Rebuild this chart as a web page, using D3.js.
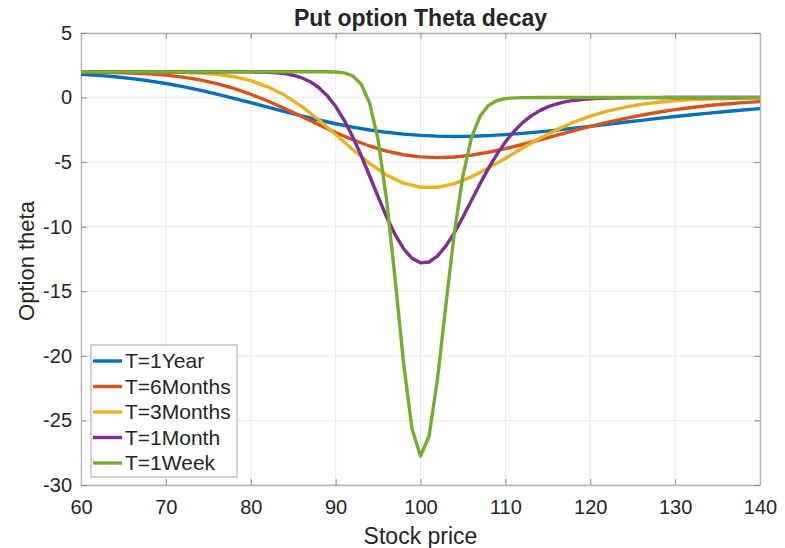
<!DOCTYPE html>
<html>
<head>
<meta charset="utf-8">
<script src="https://cdn.jsdelivr.net/npm/d3@7/dist/d3.min.js"></script>
<style>
  html, body { margin: 0; padding: 0; background: #ffffff; }
  svg { display: block; }
  text { font-family: "Liberation Sans", Arial, Helvetica, sans-serif; fill: #262626; }
</style>
</head>
<body>
<svg id="chart" width="785" height="548"></svg>
<script>
// Stock prices sampled every 2 (smooth, long-dated curves)
const priceCoarse = [60, 62, 64, 66, 68, 70, 72, 74, 76, 78, 80, 82, 84, 86, 88, 90, 92, 94, 96, 98,
  100, 102, 104, 106, 108, 110, 112, 114, 116, 118, 120, 122, 124, 126, 128, 130, 132, 134, 136, 138, 140];

// Stock prices sampled every 1 (short-dated curves)
const priceFine = [60, 61, 62, 63, 64, 65, 66, 67, 68, 69, 70, 71, 72, 73, 74, 75, 76, 77, 78, 79,
  80, 81, 82, 83, 84, 85, 86, 87, 88, 89, 90, 91, 92, 93, 94, 95, 96, 97, 98, 99,
  100, 101, 102, 103, 104, 105, 106, 107, 108, 109, 110, 111, 112, 113, 114, 115, 116, 117, 118, 119,
  120, 121, 122, 123, 124, 125, 126, 127, 128, 129, 130, 131, 132, 133, 134, 135, 136, 137, 138, 139, 140];

const thetaOneYear = [1.799, 1.719, 1.610, 1.471, 1.298, 1.089, 0.846, 0.571, 0.268, -0.058,
  -0.398, -0.743, -1.088, -1.421, -1.738, -2.027, -2.285, -2.509, -2.690, -2.832,
  -2.930, -2.988, -3.009, -2.993, -2.944, -2.868, -2.770, -2.652, -2.521, -2.378,
  -2.227, -2.071, -1.915, -1.765, -1.615, -1.469, -1.331, -1.200, -1.080, -0.966, -0.860];

const thetaSixMonths = [1.972, 1.961, 1.940, 1.902, 1.838, 1.737, 1.583, 1.368, 1.078, 0.710,
  0.257, -0.266, -0.846, -1.466, -2.095, -2.702, -3.264, -3.750, -4.142, -4.425,
  -4.594, -4.650, -4.600, -4.458, -4.234, -3.957, -3.635, -3.286, -2.929, -2.579,
  -2.238, -1.919, -1.628, -1.367, -1.136, -0.935, -0.765, -0.618, -0.496, -0.395, -0.312];

const thetaThreeMonths = [1.990, 1.990, 1.990, 1.989, 1.985, 1.976, 1.953, 1.902, 1.800, 1.615,
  1.306, 0.836, 0.174, -0.687, -1.718, -2.856, -4.018, -5.097, -5.994, -6.623,
  -6.945, -6.946, -6.661, -6.140, -5.462, -4.703, -3.922, -3.176, -2.505, -1.920,
  -1.437, -1.053, -0.755, -0.528, -0.362, -0.243, -0.163, -0.107, -0.069, -0.043, -0.027];

const thetaOneMonth = [1.997, 1.997, 1.997, 1.997, 1.997, 1.997, 1.997, 1.997, 1.997, 1.997,
  1.997, 1.997, 1.997, 1.997, 1.997, 1.997, 1.997, 1.996, 1.995, 1.993,
  1.989, 1.979, 1.959, 1.920, 1.850, 1.729, 1.532, 1.230, 0.779, 0.151,
  -0.677, -1.740, -3.012, -4.471, -6.053, -7.674, -9.230, -10.598, -11.703, -12.450,
  -12.796, -12.731, -12.276, -11.488, -10.459, -9.253, -7.976, -6.690, -5.486, -4.396,
  -3.429, -2.625, -1.960, -1.434, -1.027, -0.721, -0.497, -0.335, -0.222, -0.145,
  -0.093, -0.058, -0.036, -0.022, -0.013, -0.008, -0.005, -0.003, -0.001, 0,
  0, 0, 0, 0, 0, 0, 0, 0, 0, 0, 0];

const thetaOneWeek = [1.999, 1.999, 1.999, 1.999, 1.999, 1.999, 1.999, 1.999, 1.999, 1.999,
  1.999, 1.999, 1.999, 1.999, 1.999, 1.999, 1.999, 1.999, 1.999, 1.999,
  1.999, 1.999, 1.999, 1.999, 1.999, 1.999, 1.999, 1.999, 1.998, 1.995,
  1.978, 1.910, 1.684, 1.056, -0.409, -3.263, -7.889, -14.004, -20.522, -25.646,
  -27.757, -26.242, -21.811, -16.010, -10.421, -6.039, -3.129, -1.453, -0.607, -0.228,
  -0.078, -0.024, -0.007, -0.002, 0, 0, 0, 0, 0, 0,
  0, 0, 0, 0, 0, 0, 0, 0, 0, 0,
  0, 0, 0, 0, 0, 0, 0, 0, 0, 0, 0];

const seriesNames = ["T=1Year", "T=6Months", "T=3Months", "T=1Month", "T=1Week"];
const seriesColors = ["#0072BD", "#D95319", "#EDB120", "#7E2F8E", "#77AC30"];
const xTicks = [60, 70, 80, 90, 100, 110, 120, 130, 140];
const yTicks = [-30, -25, -20, -15, -10, -5, 0, 5];

const series = [
  { name: seriesNames[0], color: seriesColors[0], xs: priceCoarse, ys: thetaOneYear },
  { name: seriesNames[1], color: seriesColors[1], xs: priceCoarse, ys: thetaSixMonths },
  { name: seriesNames[2], color: seriesColors[2], xs: priceCoarse, ys: thetaThreeMonths },
  { name: seriesNames[3], color: seriesColors[3], xs: priceFine, ys: thetaOneMonth },
  { name: seriesNames[4], color: seriesColors[4], xs: priceFine, ys: thetaOneWeek }
];

const W = 785, H = 548;
const plot = { left: 81, right: 760, top: 33, bottom: 485 };

const svg = d3.select("#chart");
svg.append("rect").attr("width", W).attr("height", H).attr("fill", "#ffffff");

const x = d3.scaleLinear().domain([60, 140]).range([plot.left, plot.right]);
const y = d3.scaleLinear().domain([-30, 5]).range([plot.bottom, plot.top]);

// plain hyphen-minus labels
const tickLabel = d => String(d);

// grid
const grid = svg.append("g").attr("class", "grid");
grid.selectAll("line.gx").data(xTicks).join("line")
  .attr("x1", d => x(d)).attr("x2", d => x(d))
  .attr("y1", plot.top).attr("y2", plot.bottom)
  .attr("stroke", "#ebebeb").attr("stroke-width", 1);
grid.selectAll("line.gy").data(yTicks).join("line")
  .attr("x1", plot.left).attr("x2", plot.right)
  .attr("y1", d => y(d)).attr("y2", d => y(d))
  .attr("stroke", "#ebebeb").attr("stroke-width", 1);

// axes (ticks point inward, box on all sides)
const axisColor = "#b3b3b3";
const tickColor = "#8c8c8c";
function styleAxis(g) {
  g.select(".domain").attr("stroke", axisColor).attr("stroke-width", 1.3);
  g.selectAll(".tick line").attr("stroke", tickColor).attr("stroke-width", 1);
  g.selectAll(".tick text").attr("fill", "#262626").style("font-size", "20px");
}

svg.append("g").attr("transform", `translate(0,${plot.bottom})`)
  .call(d3.axisBottom(x).tickValues(xTicks).tickSize(-6).tickSizeOuter(0).tickPadding(15).tickFormat(tickLabel))
  .call(styleAxis);
svg.append("g").attr("transform", `translate(0,${plot.top})`)
  .call(d3.axisTop(x).tickValues(xTicks).tickSize(-6).tickSizeOuter(0).tickFormat(""))
  .call(styleAxis);
svg.append("g").attr("transform", `translate(${plot.left},0)`)
  .call(d3.axisLeft(y).tickValues(yTicks).tickSize(-6).tickSizeOuter(0).tickPadding(9).tickFormat(tickLabel))
  .call(styleAxis);
svg.append("g").attr("transform", `translate(${plot.right},0)`)
  .call(d3.axisRight(y).tickValues(yTicks).tickSize(-6).tickSizeOuter(0).tickFormat(""))
  .call(styleAxis);

// curves
const line = d3.line().x(d => x(d[0])).y(d => y(d[1]));
const curves = svg.append("g").attr("class", "curves");
series.forEach(s => {
  const pts = s.xs.map((p, i) => [p, s.ys[i]]);
  curves.append("path").datum(pts)
    .attr("d", line)
    .attr("fill", "none")
    .attr("stroke", s.color)
    .attr("stroke-width", 3.4)
    .attr("stroke-linejoin", "round");
});

// title and axis labels
svg.append("text").attr("x", (plot.left + plot.right) / 2).attr("y", 26)
  .attr("text-anchor", "middle").style("font-size", "23px").style("font-weight", "bold")
  .attr("fill", "#000000").text("Put option Theta decay");
svg.append("text").attr("x", (plot.left + plot.right) / 2).attr("y", 544)
  .attr("text-anchor", "middle").style("font-size", "23px").text("Stock price");
svg.append("text").attr("transform", `translate(34,${(plot.top + plot.bottom) / 2 + 2}) rotate(-90)`)
  .attr("text-anchor", "middle").style("font-size", "22px").text("Option theta");

// legend
const legend = svg.append("g").attr("transform", "translate(91,345)");
legend.append("rect").attr("width", 146).attr("height", 132)
  .attr("fill", "#ffffff").attr("stroke", "#a6a6a6").attr("stroke-width", 1);
series.forEach((s, i) => {
  const cy = 16 + i * 25.5;
  legend.append("line").attr("x1", 2).attr("x2", 31).attr("y1", cy).attr("y2", cy)
    .attr("stroke", s.color).attr("stroke-width", 3.4);
  legend.append("text").attr("x", 34).attr("y", cy).attr("dy", "0.35em")
    .style("font-size", "21px").text(s.name);
});
</script>
</body>
</html>
